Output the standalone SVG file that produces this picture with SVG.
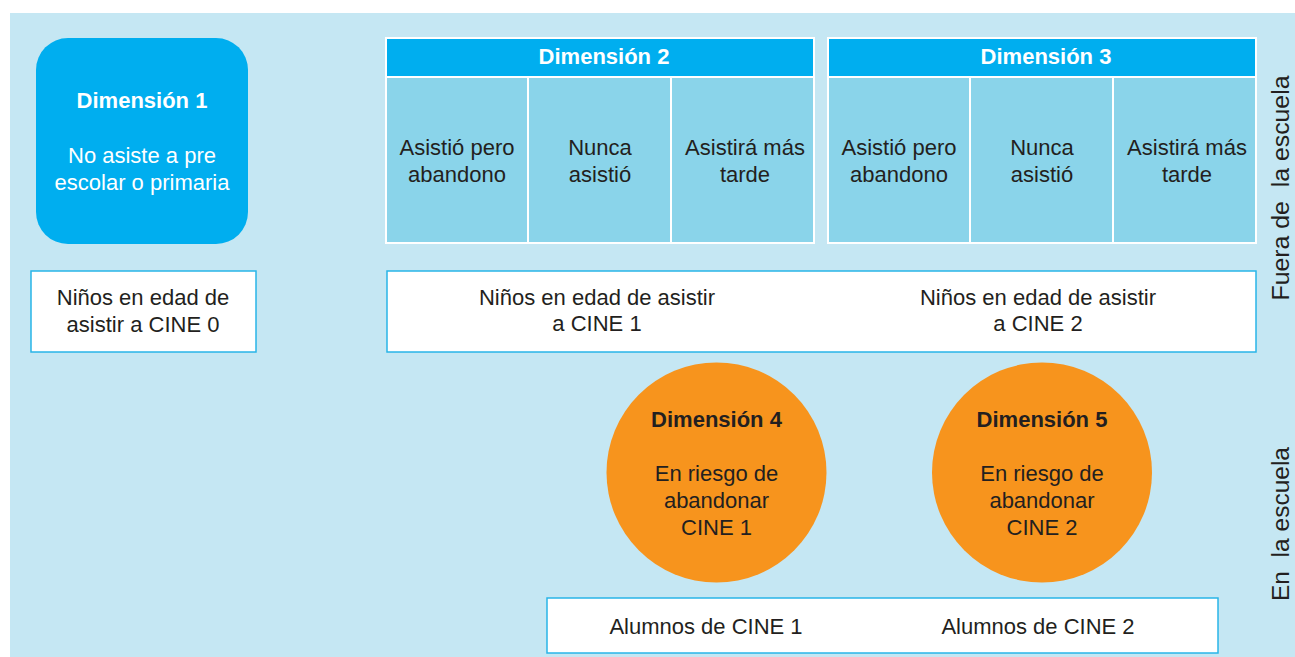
<svg xmlns="http://www.w3.org/2000/svg" width="1295" height="657" viewBox="0 0 1295 657">
<style>
text{font-family:"Liberation Sans",Arial,sans-serif;font-size:22px;fill:#231F20;text-anchor:middle}
.w{fill:#fff}
.b{font-weight:bold}
.v{font-size:23px}
.hdr{fill:#00AEEF;stroke:#fff;stroke-width:2}
.cell{fill:#8AD4EA;stroke:#fff;stroke-width:2}
.box{fill:#fff;stroke:#29B5E8;stroke-width:1.5}
.circ{fill:#F7941D}
</style>
<rect x="10" y="13" width="1285" height="644" fill="#C5E7F3"/>
<g id="dim1">
<rect x="36" y="38" width="212" height="206" rx="32" fill="#00AEEF"/>
<text x="142" y="108" class="w b">Dimensión 1</text>
<text x="142" y="163" class="w">No asiste a pre</text>
<text x="142" y="190" class="w">escolar o primaria</text>
</g>
<g id="dim2">
<rect x="386" y="38" width="428" height="39" class="hdr"/>
<text x="604" y="64" class="w b">Dimensión 2</text>
<rect x="386" y="77" width="142" height="166" class="cell"/>
<rect x="528" y="77" width="143" height="166" class="cell"/>
<rect x="671" y="77" width="143" height="166" class="cell"/>
<text x="457" y="155">Asistió pero</text><text x="457" y="182">abandono</text>
<text x="600" y="155">Nunca</text><text x="600" y="182">asistió</text>
<text x="745" y="155">Asistirá más</text><text x="745" y="182">tarde</text>
</g>
<g id="dim3">
<rect x="828" y="38" width="428" height="39" class="hdr"/>
<text x="1046" y="64" class="w b">Dimensión 3</text>
<rect x="828" y="77" width="142" height="166" class="cell"/>
<rect x="970" y="77" width="143" height="166" class="cell"/>
<rect x="1113" y="77" width="143" height="166" class="cell"/>
<text x="899" y="155">Asistió pero</text><text x="899" y="182">abandono</text>
<text x="1042" y="155">Nunca</text><text x="1042" y="182">asistió</text>
<text x="1187" y="155">Asistirá más</text><text x="1187" y="182">tarde</text>
</g>
<g id="cine0">
<rect x="31" y="271" width="225" height="81" class="box"/>
<text x="143" y="305">Niños en edad de</text>
<text x="143" y="332">asistir a CINE 0</text>
</g>
<g id="cine12">
<rect x="387" y="271" width="869" height="81" class="box"/>
<text x="597" y="305">Niños en edad de asistir</text>
<text x="597" y="331">a CINE 1</text>
<text x="1038" y="305">Niños en edad de asistir</text>
<text x="1038" y="331">a CINE 2</text>
</g>
<g id="dim4">
<circle cx="716.5" cy="472.5" r="110" class="circ"/>
<text x="716.5" y="427" class="b">Dimensión  4</text>
<text x="716.5" y="481">En riesgo de</text>
<text x="716.5" y="508">abandonar</text>
<text x="716.5" y="535">CINE 1</text>
</g>
<g id="dim5">
<circle cx="1042" cy="472.5" r="110" class="circ"/>
<text x="1042" y="427" class="b">Dimensión  5</text>
<text x="1042" y="481">En riesgo de</text>
<text x="1042" y="508">abandonar</text>
<text x="1042" y="535">CINE 2</text>
</g>
<g id="alumnos">
<rect x="547" y="598" width="671" height="55" class="box"/>
<text x="706" y="634">Alumnos de CINE 1</text>
<text x="1038" y="634">Alumnos de CINE 2</text>
</g>
<g id="labels">
<text class="v" transform="translate(1289,188) rotate(-90)" xml:space="preserve" textLength="225" lengthAdjust="spacingAndGlyphs">Fuera de  la escuela</text>
<text class="v" transform="translate(1289,524) rotate(-90)" xml:space="preserve" textLength="154" lengthAdjust="spacingAndGlyphs">En  la escuela</text>
</g>
<g id="connectors"></g>
</svg>
